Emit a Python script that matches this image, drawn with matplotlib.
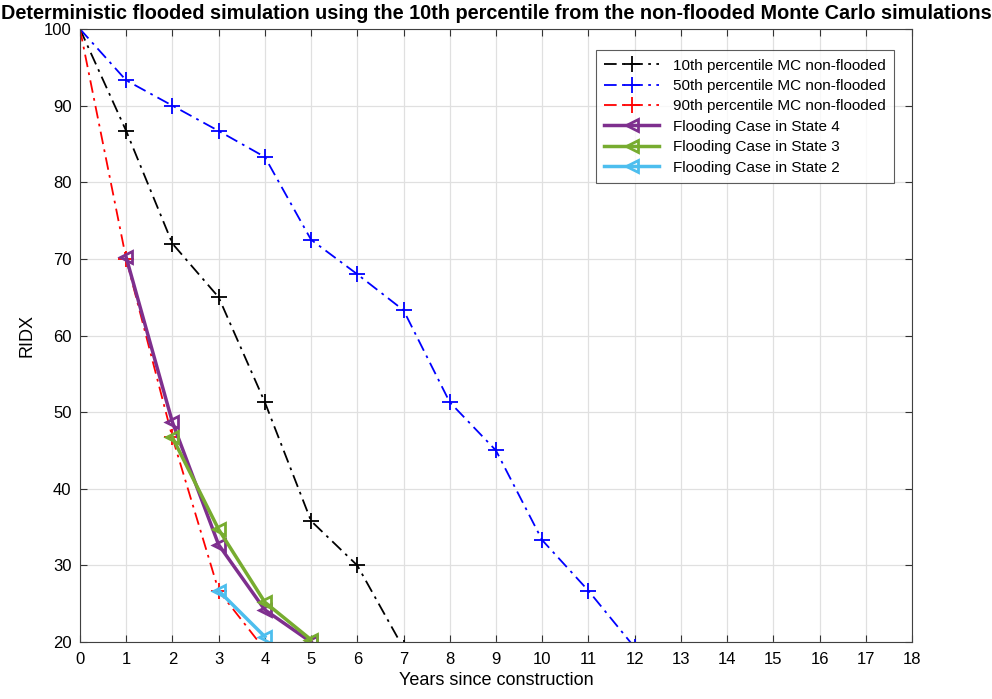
import numpy as np
import matplotlib
matplotlib.use('Agg')
import matplotlib.pyplot as plt

plt.rcParams['font.family'] = ['Liberation Sans', 'DejaVu Sans']

# non-flooded Monte Carlo percentiles
yrs_p10 = [0, 1, 2, 3, 4, 5, 6, 7]
p10 = [100, 86.7, 72, 65, 51.3, 35.8, 30, 19.2]
yrs_p50 = [0, 1, 2, 3, 4, 5, 6, 7, 8, 9, 10, 11, 12]
p50 = [100, 93.3, 90, 86.7, 83.3, 72.5, 68, 63.3, 51.3, 45, 33.3, 26.7, 19.3]
yrs_p90 = [0, 1, 2, 3, 4]
p90 = [100, 70, 46.7, 26.7, 19]

# flooded cases
yrs_s4 = [1, 2, 3, 4, 5]
s4 = [70.2, 48.7, 32.7, 24.2, 20]
yrs_s3 = [2, 3, 4, 5]
s3 = [46.7, 34.7, 25.2, 20.3]
yrs_s2 = [3, 4]
s2 = [26.7, 20.7]

fig = plt.figure(figsize=(9.92, 6.99), dpi=100)
ax = fig.add_axes([0.0806, 0.0815, 0.8387, 0.877])

dd = (0, (7, 3, 1.5, 3))
ax.plot(yrs_p10, p10, color='k', ls=dd, lw=1.3, marker='+', ms=11, mew=1.3,
        label='10th percentile MC non-flooded')
ax.plot(yrs_p50, p50, color='b', ls=dd, lw=1.3, marker='+', ms=11, mew=1.3,
        label='50th percentile MC non-flooded')
ax.plot(yrs_p90, p90, color='r', ls=dd, lw=1.3, marker='+', ms=11, mew=1.3,
        label='90th percentile MC non-flooded')

purple = (0.494, 0.184, 0.556)
green = (0.466, 0.674, 0.188)
cyan = (0.301, 0.745, 0.933)
for xs, ys, c, lab in [(yrs_s4, s4, purple, 'Flooding Case in State 4'),
                       (yrs_s3, s3, green, 'Flooding Case in State 3'),
                       (yrs_s2, s2, cyan, 'Flooding Case in State 2')]:
    ax.plot(xs, ys, color=c, lw=2.5, marker='<', ms=9, mew=2,
            mfc='none', label=lab)

ax.set_xlim(0, 18)
ax.set_ylim(20, 100)
ax.set_xticks(np.arange(0, 19, 1))
ax.set_yticks(np.arange(20, 101, 10))
ax.tick_params(direction='in', labelsize=12, length=5, color='0.2',
               top=True, right=True)
ax.tick_params(axis='x', pad=7)
ax.tick_params(axis='y', pad=6)
ax.grid(True, color='0.88', lw=0.9)
ax.set_axisbelow(True)
for s in ax.spines.values():
    s.set_color('0.25')

ax.set_xlabel('Years since construction', fontsize=13, labelpad=4)
ax.set_ylabel('RIDX', fontsize=13, labelpad=6)
ax.set_title('Deterministic flooded simulation using the 10th percentile from the non-flooded Monte Carlo simulations',
             fontsize=14.3, fontweight='bold', pad=7)

leg = ax.legend(loc='upper right', bbox_to_anchor=(0.988, 0.978), fontsize=11,
                fancybox=False, edgecolor='0.2', handlelength=3.6,
                borderpad=0.55, labelspacing=0.42, handletextpad=0.9)
leg.get_frame().set_linewidth(0.8)

fig.savefig('out.png', dpi=100)
